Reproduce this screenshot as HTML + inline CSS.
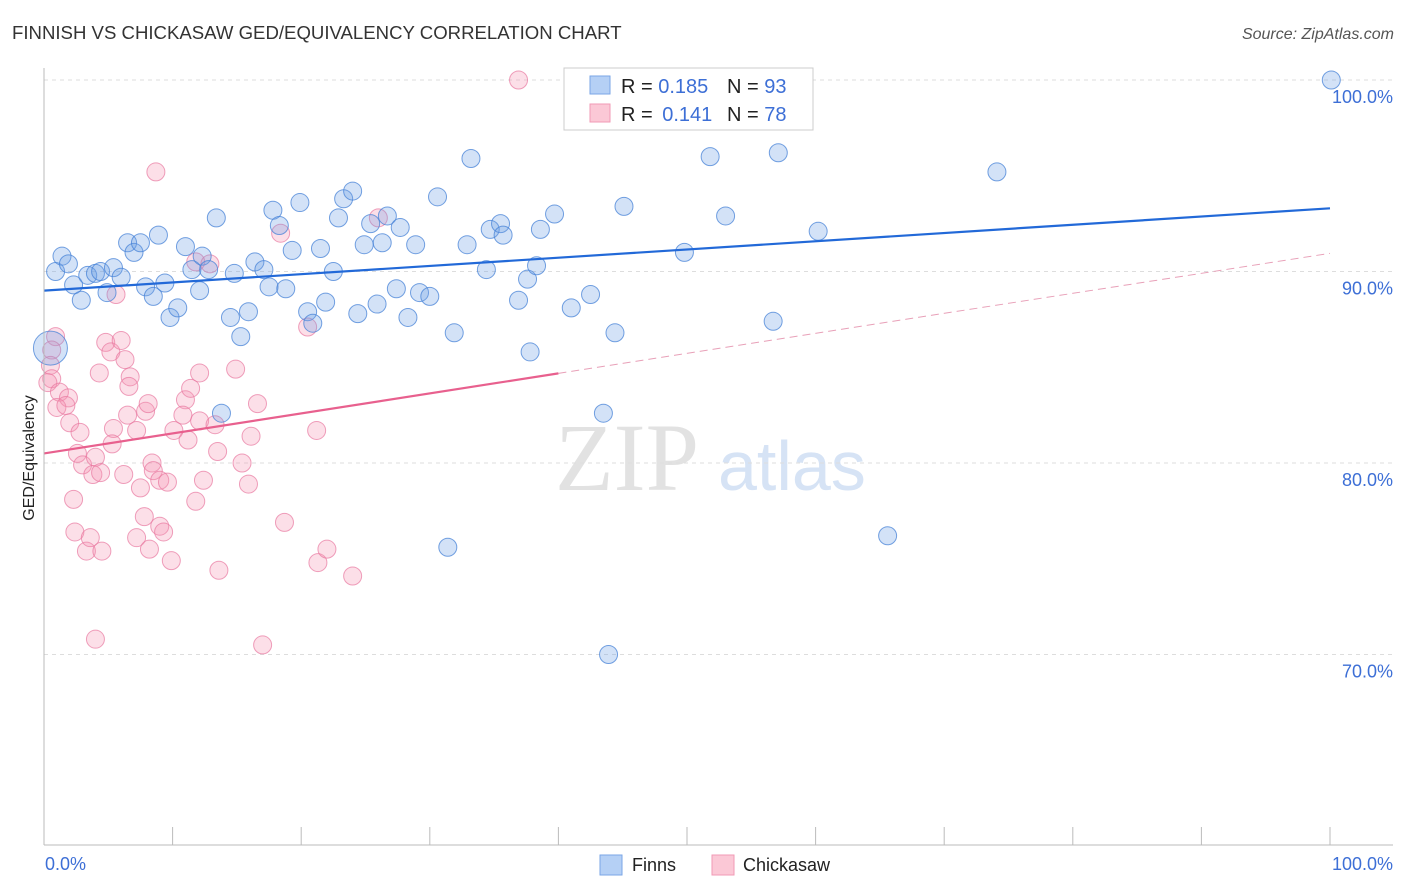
<!DOCTYPE html>
<html><head><meta charset="utf-8"><style>
body{margin:0;background:#fff;font-family:"Liberation Sans",sans-serif;}
#wrap{position:relative;width:1406px;height:892px;overflow:hidden;}
</style></head><body>
<div id="wrap">
<svg id="svg" width="1406" height="892" xmlns="http://www.w3.org/2000/svg">
<text x="12" y="39" font-size="18.6" fill="#333">FINNISH VS CHICKASAW GED/EQUIVALENCY CORRELATION CHART</text>
<text x="1394" y="39" font-size="16" fill="#555" font-style="italic" text-anchor="end">Source: ZipAtlas.com</text>
<text transform="translate(34,458) rotate(-90)" font-size="16" fill="#222" text-anchor="middle">GED/Equivalency</text>
<g><text x="555" y="490" font-size="96" font-family="Liberation Serif,serif" fill="#e2e2e2">ZIP</text><text x="718" y="490" font-size="70" fill="#d6e3f5">atlas</text></g>
<g id="grid"></g><g id="marks"></g><g id="lines"></g>
<line x1="44" y1="68" x2="44" y2="845" stroke="#bbb"/>
<line x1="44" y1="845" x2="1393" y2="845" stroke="#bbb"/>
<text x="45" y="870" font-size="18" fill="#3d6fd6">0.0%</text>
<text x="1393" y="870" font-size="18" fill="#3d6fd6" text-anchor="end">100.0%</text>
<g>
<rect x="564" y="68" width="249" height="62" fill="#fff" stroke="#ccc"/>
<rect x="590" y="76" width="20" height="18" fill="#b5d0f5" stroke="#7aa6e6"/>
<rect x="590" y="104" width="20" height="18" fill="#fbc8d6" stroke="#f09ab5"/>
<text x="621" y="93" font-size="20" fill="#222">R = <tspan fill="#3d6fd6">0.185</tspan><tspan x="727">N = </tspan><tspan fill="#3d6fd6">93</tspan></text>
<text x="621" y="121" font-size="20" fill="#222">R = <tspan fill="#3d6fd6" dx="4">0.141</tspan><tspan x="727">N = </tspan><tspan fill="#3d6fd6">78</tspan></text>
</g>
<g>
<rect x="600" y="855" width="22" height="20" fill="#b5d0f5" stroke="#7aa6e6"/>
<text x="632" y="871" font-size="18" fill="#222">Finns</text>
<rect x="712" y="855" width="22" height="20" fill="#fbc8d6" stroke="#f09ab5"/>
<text x="743" y="871" font-size="18" fill="#222">Chickasaw</text>
</g>
</svg></div>
<script>
const yTicks=[100,90,80,70];
const yTickLabels=["100.0%","90.0%","80.0%","70.0%"];
const xTicks=[0,10,20,30,40,50,60,70,80,90,100];
const finnsX=[0.9,1.4,1.9,2.3,2.9,3.4,4.0,4.4,4.9,5.4,6.0,6.5,7.0,7.5,7.9,8.5,8.9,9.4,9.8,10.4,11.0,11.5,12.1,12.3,12.8,13.4,14.5,14.8,15.3,15.9,16.4,17.1,17.5,17.8,18.3,18.8,19.3,19.9,20.5,20.9,21.5,21.9,22.5,22.9,23.3,24.0,24.4,24.9,25.4,25.9,26.3,26.7,27.7,27.4,28.3,28.9,29.2,30.0,30.6,31.9,32.9,33.2,34.4,34.7,35.5,35.7,36.9,37.6,37.8,38.3,38.6,39.7,41.0,41.5,42.5,43.5,43.9,44.4,45.1,31.4,49.8,51.8,53.0,55.8,56.7,57.1,58.9,60.2,65.6,74.1,100.1,13.8,0.5];
const finnsY=[90.0,90.8,90.4,89.3,88.5,89.8,89.9,90.0,88.9,90.2,89.7,91.5,91.0,91.5,89.2,88.7,91.9,89.4,87.6,88.1,91.3,90.1,89.0,90.8,90.1,92.8,87.6,89.9,86.6,87.9,90.5,90.1,89.2,93.2,92.4,89.1,91.1,93.6,87.9,87.3,91.2,88.4,90.0,92.8,93.8,94.2,87.8,91.4,92.5,88.3,91.5,92.9,92.3,89.1,87.6,91.4,88.9,88.7,93.9,86.8,91.4,95.9,90.1,92.2,92.5,91.9,88.5,89.6,85.8,90.3,92.2,93.0,88.1,98.4,88.8,82.6,70.0,86.8,93.4,75.6,91.0,96.0,92.9,99.9,87.4,96.2,100,92.1,76.2,95.2,100,82.6,86.0];
const chickX=[0.9,0.6,0.5,0.6,0.3,1.2,1.9,1.0,1.7,2.0,2.8,2.6,3.0,4.0,3.8,2.3,2.4,3.3,3.6,4.5,4.0,4.4,4.3,4.8,5.2,5.4,5.3,6.0,6.3,6.7,6.6,6.5,7.2,6.2,7.5,7.2,7.8,7.9,8.1,8.2,8.4,8.5,9.0,9.0,9.3,9.6,9.9,8.7,10.1,11.2,11.0,11.4,11.8,12.1,11.8,12.1,12.4,13.3,13.5,13.6,14.9,15.4,15.9,16.1,16.6,17.0,18.4,18.7,20.5,21.2,21.3,22.0,24.0,26.0,36.9,12.9,5.6,10.8];
const chickY=[86.6,85.9,85.1,84.4,84.2,83.7,83.4,82.9,83.0,82.1,81.6,80.5,79.9,80.3,79.4,78.1,76.4,75.4,76.1,75.4,70.8,79.5,84.7,86.3,85.8,81.8,81.0,86.4,85.4,84.5,84.0,82.5,81.7,79.4,78.7,76.1,77.2,82.7,83.1,75.5,80.0,79.6,79.1,76.7,76.4,79.0,74.9,95.2,81.7,81.2,83.3,83.9,78.0,84.7,90.5,82.2,79.1,82.0,80.6,74.4,84.9,80.0,78.9,81.4,83.1,70.5,92.0,76.9,87.1,81.7,74.8,75.5,74.1,92.8,100,90.4,88.8,82.5];
const finnsTrend=[89.0,93.3];
const chickTrend=[80.5,90.95];
const chickSolidEnd=40;
const X=v=>44+v*12.86, Y=v=>80+(100-v)*19.15;
const NS="http://www.w3.org/2000/svg";
function mk(t,a,p){const e=document.createElementNS(NS,t);for(const k in a)e.setAttribute(k,a[k]);p.appendChild(e);return e;}
const grid=document.getElementById('grid'),marks=document.getElementById('marks'),lines=document.getElementById('lines'),svg=document.getElementById('svg');
yTicks.forEach((t,i)=>{
 const l=mk('line',{x1:44,x2:1393,y1:Y(t),y2:Y(t),stroke:'#ddd','stroke-dasharray':'4,4'},grid);
 
 
 const tx=mk('text',{x:1393,y:Y(t)+23,'font-size':18,fill:'#3d6fd6','text-anchor':'end'},svg);
 tx.textContent=yTickLabels[i];
 
 
});
xTicks.forEach(t=>{
 const l=mk('line',{x1:X(t),x2:X(t),y1:827,y2:845,stroke:'#bbb'},grid);
 
 
});
chickX.forEach((x,i)=>{
 const c=mk('circle',{cx:X(x),cy:Y(chickY[i]),r:9,fill:'rgba(245,150,180,0.3)',stroke:'rgba(232,120,160,0.7)','stroke-width':1},marks);
 
 
});
finnsX.forEach((x,i)=>{
 const big=i===finnsX.length-1;
 const c=mk('circle',{cx:X(x),cy:Y(finnsY[i]),r:big?17:9,fill:'rgba(110,160,230,0.3)',stroke:'rgba(70,130,215,0.75)','stroke-width':1},marks);
 
 
});
const bl=mk('line',{x1:X(0),y1:Y(finnsTrend[0]),x2:X(100),y2:Y(finnsTrend[1]),stroke:'#2269d8','stroke-width':2.2},lines);


const cm=chickTrend[0]+(chickTrend[1]-chickTrend[0])*chickSolidEnd/100;
const pl=mk('line',{x1:X(0),y1:Y(chickTrend[0]),x2:X(chickSolidEnd),y2:Y(cm),stroke:'#e8608e','stroke-width':2.2},lines);


const pd=mk('line',{x1:X(chickSolidEnd),y1:Y(cm),x2:X(100),y2:Y(chickTrend[1]),stroke:'#e8a0b8','stroke-width':1,'stroke-dasharray':'8,5'},lines);


</script>
</body></html>
